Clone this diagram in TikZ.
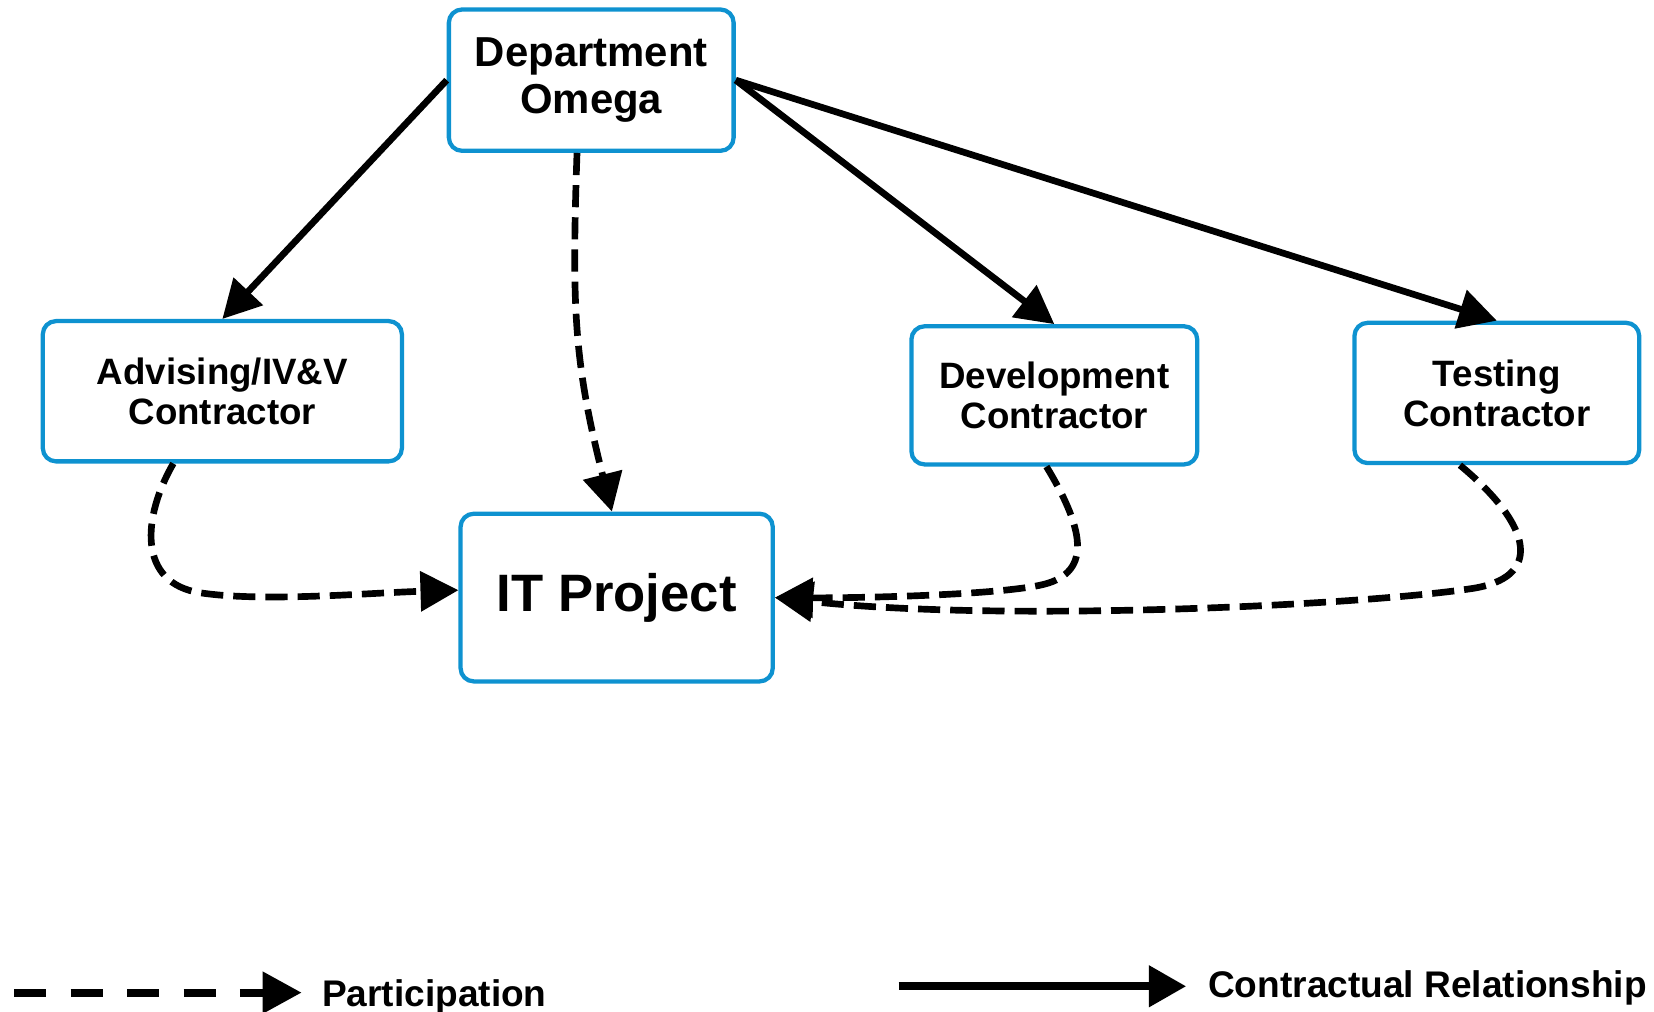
\documentclass[tikz,border=0pt]{standalone}
\usepackage{fontspec}
\setmainfont{Liberation Sans}
\usetikzlibrary{arrows.meta}
\definecolor{boxblue}{RGB}{14,146,208}
\newcommand{\boxfont}{\fontsize{19.8pt}{21.6pt}\selectfont\bfseries}

\begin{document}
\begin{tikzpicture}[x=0.02cm,y=-0.02cm,
    box/.style={draw=boxblue,line width=2.3pt,rounded corners=0.25cm,inner sep=0pt,align=center,font=\boxfont},
    contract/.style={line width=3.6pt,-{Triangle[length=0.72cm,width=0.74cm]}},
    part/.style={contract,dash pattern=on 0.42cm off 0.19cm},
    legend/.style={anchor=base west,inner sep=0pt,font=\fontsize{20pt}{24pt}\selectfont\bfseries}]
    \useasboundingbox (0,0) rectangle (1568,959);
    \node[box,minimum width=5.4cm,minimum height=2.68cm,font=\fontsize{22.6pt}{25.6pt}\selectfont\bfseries] (dept) at (560.5,76) {Department\\Omega};
    \node[box,minimum width=6.81cm,minimum height=2.66cm] (adv) at (210.8,370.9) {Advising/IV\&V\\Contractor};
    \node[box,minimum width=5.42cm,minimum height=2.62cm] (dev) at (999.5,374.8) {Development\\Contractor};
    \node[box,minimum width=5.4cm,minimum height=2.66cm] (test) at (1419,372.5) {Testing\\Contractor};
    \node[box,minimum width=5.92cm,minimum height=3.18cm,font=\fontsize{28.4pt}{32pt}\selectfont\bfseries] (it) at (584.6,566.5) {IT Project};
    \draw[contract] (dept.west) -- (adv.north);
    \draw[contract] (dept.east) -- (dev.north);
    \draw[contract] (dept.east) -- (test.north);
    \draw[part] ([xshift=-0.27cm]dept.south) .. controls (542,292) and (544,343) .. ([xshift=-0.09cm]it.north);
    \draw[part] ([xshift=-0.93cm]adv.south) .. controls (135,490) and (130,553) .. (190,562)
        .. controls (250,571) and (350,562) .. ([yshift=0.14cm]it.west);
    \draw[part] ([xshift=-0.15cm]dev.south) .. controls (1030,505) and (1035,545) .. (985,555)
        .. controls (935,565) and (800,567) .. (it.east);
    \draw[part] ([xshift=-0.7cm]test.south) .. controls (1455,500) and (1462,548) .. (1395,558)
        .. controls (1288,574) and (950,590) .. (it.east);
    % legend
    \coordinate (pstart) at (13.5,941);
    \coordinate (pend) at (286,941);
    \coordinate (cstart) at (852,935);
    \coordinate (cend) at (1124.5,935);
    \draw[line width=4.3pt,dash pattern=on 0.61cm off 0.46cm,-{Triangle[length=0.74cm,width=0.76cm]}] (pstart) -- (pend);
    \draw[line width=4.3pt,-{Triangle[length=0.71cm,width=0.76cm]}] (cstart) -- (cend);
    \node[legend] (ptext) at (305,954) {Participation};
    \node[legend] (ctext) at (1145,946) {Contractual Relationship};
\end{tikzpicture}
\end{document}
